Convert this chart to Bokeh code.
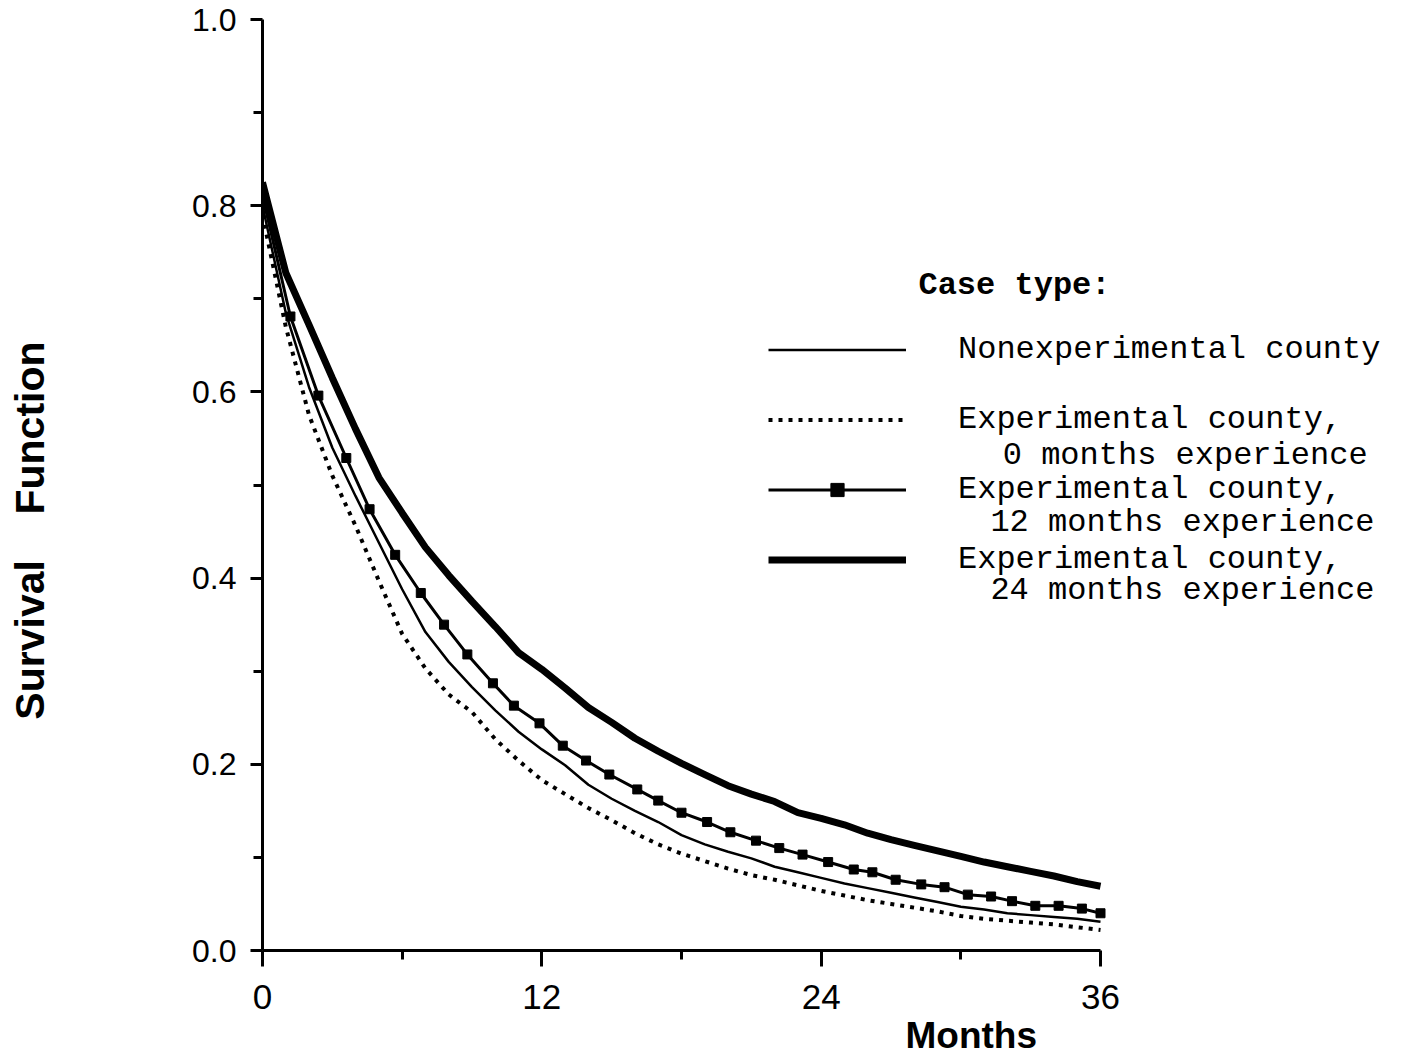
from bokeh.plotting import figure
from bokeh.models import FixedTicker, Label, Legend, LegendItem, Range1d, PrintfTickFormatter, Title
from bokeh.embed import file_html
from bokeh.resources import INLINE

# ---- data ----
months = [0, 1, 2, 3, 4, 5, 6, 7, 8, 9, 10, 11, 12, 13, 14, 15, 16, 17, 18,
          19, 20, 21, 22, 23, 24, 25, 26, 27, 28, 29, 30, 31, 32, 33, 34, 35, 36]

surv_nonexp = [0.800, 0.685, 0.605, 0.540, 0.488, 0.438, 0.388, 0.342, 0.310, 0.283,
               0.258, 0.235, 0.216, 0.199, 0.178, 0.163, 0.150, 0.138, 0.124, 0.114,
               0.106, 0.099, 0.090, 0.084, 0.078, 0.072, 0.067, 0.062, 0.057, 0.052,
               0.047, 0.044, 0.040, 0.038, 0.036, 0.034, 0.031]

surv_exp0 = [0.790, 0.670, 0.575, 0.510, 0.456, 0.397, 0.340, 0.303, 0.275, 0.256,
             0.227, 0.204, 0.183, 0.168, 0.153, 0.140, 0.126, 0.114, 0.104, 0.096,
             0.088, 0.081, 0.076, 0.070, 0.064, 0.059, 0.054, 0.050, 0.046, 0.042,
             0.037, 0.034, 0.032, 0.030, 0.028, 0.025, 0.022]

months_12 = [0.1, 1.2, 2.4, 3.6, 4.6, 5.7, 6.8, 7.8, 8.8, 9.9, 10.8, 11.9, 12.9, 13.9,
             14.9, 16.1, 17.0, 18.0, 19.1, 20.1, 21.2, 22.2, 23.2, 24.3, 25.4, 26.2,
             27.2, 28.3, 29.3, 30.3, 31.3, 32.2, 33.2, 34.2, 35.2, 36.0]
surv_exp12 = [0.800, 0.681, 0.596, 0.529, 0.474, 0.425, 0.384, 0.350, 0.318, 0.287,
              0.263, 0.244, 0.220, 0.204, 0.189, 0.173, 0.161, 0.148, 0.138, 0.127,
              0.118, 0.110, 0.103, 0.095, 0.087, 0.084, 0.076, 0.071, 0.068, 0.060,
              0.058, 0.053, 0.048, 0.048, 0.045, 0.040]

surv_exp24 = [0.825, 0.728, 0.672, 0.615, 0.560, 0.508, 0.470, 0.433, 0.403, 0.375,
              0.348, 0.320, 0.302, 0.282, 0.261, 0.245, 0.228, 0.214, 0.201, 0.189,
              0.177, 0.168, 0.160, 0.148, 0.142, 0.135, 0.126, 0.119, 0.113, 0.107,
              0.101, 0.095, 0.090, 0.085, 0.080, 0.074, 0.069]

x_ticks = [0, 12, 24, 36]
x_minor = [6, 18, 30]
y_ticks = [0.0, 0.2, 0.4, 0.6, 0.8, 1.0]
y_minor = [0.1, 0.3, 0.5, 0.7, 0.9]

y_title = "Survival\u00a0\u00a0\u00a0\u00a0Function" + "\u00a0" * 8
x_title = "Months"
legend_title = "Case type:"
legend_labels = ["Nonexperimental county", "Experimental county,",
                 "Experimental county,", "Experimental county,"]
legend_sublabels = ["0 months experience", "12 months experience", "24 months experience"]

# ---- layout (pixels) ----
W, H = 1410, 1068
FRAME_LEFT, FRAME_TOP, AXIS_RIGHT, FRAME_RIGHT, FRAME_BOTTOM = 262, 19, 1100, 1408, 950
x_end = x_ticks[-1] * (FRAME_RIGHT - FRAME_LEFT) / (AXIS_RIGHT - FRAME_LEFT)

p = figure(width=W, height=H, x_range=Range1d(0, x_end), y_range=Range1d(0, 1),
           output_backend="svg", toolbar_location=None,
           min_border_left=FRAME_LEFT, min_border_right=W - FRAME_RIGHT,
           min_border_top=FRAME_TOP, min_border_bottom=H - FRAME_BOTTOM)
p.xgrid.visible = False
p.ygrid.visible = False
p.outline_line_color = None
p.background_fill_color = "white"
p.border_fill_color = "white"

for ax in (p.xaxis, p.yaxis):
    ax.axis_line_width = 3
    ax.axis_line_color = "black"
    ax.major_tick_line_width = 3
    ax.minor_tick_line_width = 3
    ax.major_tick_line_color = "black"
    ax.minor_tick_line_color = "black"
    ax.major_tick_in = 0
    ax.minor_tick_in = 0
    ax.major_label_text_font = "Liberation Sans"
    ax.major_label_text_color = "black"

p.xaxis.bounds = (x_ticks[0], x_ticks[-1])
p.xaxis.ticker = FixedTicker(ticks=x_ticks, minor_ticks=x_minor)
p.yaxis.ticker = FixedTicker(ticks=y_ticks, minor_ticks=y_minor)
p.yaxis.formatter = PrintfTickFormatter(format="%.1f")

p.xaxis.major_tick_out = 16
p.xaxis.minor_tick_out = 9
p.xaxis.major_label_standoff = 18
p.xaxis.major_label_text_font_size = "35px"

p.yaxis.major_tick_out = 12
p.yaxis.minor_tick_out = 9
p.yaxis.major_label_standoff = 14
p.yaxis.major_label_text_font_size = "32px"

p.yaxis.axis_label = y_title
p.yaxis.axis_label_text_font = "Liberation Sans"
p.yaxis.axis_label_text_font_style = "bold"
p.yaxis.axis_label_text_font_size = "41px"
p.yaxis.axis_label_text_color = "black"
p.yaxis.axis_label_standoff = 136

# ---- curves ----
r_thin = p.line(months, surv_nonexp, line_width=2.5, line_color="black")
r_dot = p.line(months, surv_exp0, line_width=4, line_color="black", line_dash="4 6")
r_m_line = p.line(months_12, surv_exp12, line_width=3, line_color="black")
r_m_pts = p.scatter(months_12, surv_exp12, marker="square", size=9,
                    fill_color="black", line_color="black")
r_thick = p.line(months, surv_exp24, line_width=7, line_color="black")

# ---- legend ----
legend = Legend(
    items=[
        LegendItem(label=legend_labels[0], renderers=[r_thin]),
        LegendItem(label=legend_labels[1], renderers=[r_dot]),
        LegendItem(label=legend_labels[2], renderers=[r_m_line, r_m_pts]),
        LegendItem(label=legend_labels[3], renderers=[r_thick]),
    ],
    location=(506, 372),
    glyph_width=138, glyph_height=33, label_height=33, label_standoff=52, spacing=33,
    padding=0, margin=0, border_line_color=None, background_fill_alpha=0,
    label_text_font="Liberation Mono", label_text_font_size="32px",
    label_text_color="black",
)
p.add_layout(legend, "center")

text_style = dict(text_font="Liberation Mono", text_font_size="32px", text_color="black",
                  text_align="left", text_baseline="middle")
p.add_layout(Label(x=28.18, y=0.714, text=legend_title, text_font_style="bold", **text_style))
p.add_layout(Label(x=31.8, y=0.532, text=legend_sublabels[0], **text_style))
p.add_layout(Label(x=31.27, y=0.460, text=legend_sublabels[1], **text_style))
p.add_layout(Label(x=31.27, y=0.387, text=legend_sublabels[2], **text_style))

p.add_layout(Title(text=x_title, align="left", offset=643, standoff=3,
                   text_font="Liberation Sans", text_font_style="bold",
                   text_font_size="37px", text_color="black"), "below")

open("out.html", "w").write(file_html(p, INLINE))
